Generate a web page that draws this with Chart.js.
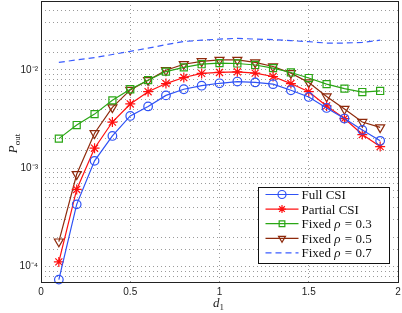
<!DOCTYPE html>
<html>
<head>
<meta charset="utf-8">
<script src="https://cdn.jsdelivr.net/npm/chart.js@4"></script>
<style>
  html, body { margin: 0; padding: 0; background: #fff; }
  #c { display: block; }
</style>
</head>
<body>
<canvas id="c" width="402" height="313"></canvas>
<script>
// distance d1 (x axis)
const d1 = [0.1, 0.2, 0.3, 0.4, 0.5, 0.6, 0.7, 0.8, 0.9, 1.0, 1.1, 1.2, 1.3, 1.4, 1.5, 1.6, 1.7, 1.8, 1.9];

// outage probability
const fullCsi = [7.4e-5, 4.3e-4, 1.19e-3, 2.13e-3, 3.4e-3, 4.25e-3, 5.5e-3, 6.35e-3, 6.9e-3, 7.3e-3,
                 7.6e-3, 7.45e-3, 7.15e-3, 6.2e-3, 5.3e-3, 4.1e-3, 3.2e-3, 2.45e-3, 1.9e-3];
const partialCsi = [1.12e-4, 6.1e-4, 1.6e-3, 2.95e-3, 4.5e-3, 6.0e-3, 7.25e-3, 8.35e-3, 9.2e-3, 9.4e-3,
                    9.55e-3, 9.25e-3, 8.55e-3, 7.25e-3, 6.0e-3, 4.3e-3, 3.2e-3, 2.2e-3, 1.66e-3];
const fixed03 = [2.0e-3, 2.75e-3, 3.55e-3, 4.9e-3, 6.35e-3, 7.85e-3, 9.6e-3, 1.06e-2, 1.14e-2, 1.17e-2,
                 1.16e-2, 1.12e-2, 1.04e-2, 9.4e-3, 8.25e-3, 7.15e-3, 6.45e-3, 5.95e-3, 6.1e-3];
const fixed05 = [1.8e-4, 8.7e-4, 2.27e-3, 4.15e-3, 6.25e-3, 7.85e-3, 9.9e-3, 1.14e-2, 1.22e-2, 1.26e-2,
                 1.26e-2, 1.19e-2, 1.08e-2, 9.25e-3, 7.45e-3, 5.35e-3, 4.0e-3, 2.95e-3, 2.6e-3];
const fixed07 = [1.19e-2, 1.26e-2, 1.33e-2, 1.43e-2, 1.54e-2, 1.66e-2, 1.8e-2, 1.94e-2, 2.0e-2, 2.05e-2,
                 2.09e-2, 2.05e-2, 2.03e-2, 1.98e-2, 1.93e-2, 1.87e-2, 1.87e-2, 1.9e-2, 2.0e-2];

const seriesNames = ['Full CSI', 'Partial CSI', 'Fixed ρ = 0.3', 'Fixed ρ = 0.5', 'Fixed ρ = 0.7'];
const xTicks = [0, 0.5, 1, 1.5, 2];
const yTickLabels = { '-4': '10⁻⁴', '-3': '10⁻³', '-2': '10⁻²' };

const pts = (ys) => ys.map((y, i) => ({ x: d1[i], y: y }));

const SERIF = '"Liberation Serif", "DejaVu Serif", serif';
const SANS = '"Liberation Sans", Arial, sans-serif';

// axis titles with subscripts + MATLAB style legend box + frame
const matlabBits = {
    id: 'matlabBits',
    afterDraw(chart) {
        const ctx = chart.ctx;
        const a = chart.chartArea;
        ctx.save();

        // frame
        ctx.strokeStyle = '#222';
        ctx.lineWidth = 1;
        ctx.strokeRect(Math.round(a.left) + 0.5, Math.round(a.top) + 0.5,
            Math.round(a.right - a.left), Math.round(a.bottom - a.top));

        // x title: d_1
        ctx.fillStyle = '#222';
        ctx.textBaseline = 'alphabetic';
        ctx.font = 'italic 13px ' + SERIF;
        const cx = (a.left + a.right) / 2;
        const dw = ctx.measureText('d').width;
        ctx.fillText('d', cx - dw, 307);
        ctx.font = '9px ' + SERIF;
        ctx.fillText('1', cx, 310);

        // y title: P_out
        ctx.save();
        ctx.translate(17, (a.top + a.bottom) / 2 + 2);
        ctx.rotate(-Math.PI / 2);
        ctx.font = 'italic 13px ' + SERIF;
        const pw = ctx.measureText('P').width;
        ctx.font = '9px ' + SERIF;
        const ow = ctx.measureText('out').width;
        const x0 = -(pw + ow) / 2;
        ctx.font = 'italic 13px ' + SERIF;
        ctx.fillText('P', x0, 0);
        ctx.font = '9px ' + SERIF;
        ctx.fillText('out', x0 + pw, 3);
        ctx.restore();

        // legend
        const bw = 131, bh = 76;
        const bx = Math.round(a.right - 9 - bw) + 0.5;
        const by = Math.round(a.bottom - 19 - bh) + 0.5;
        ctx.fillStyle = '#fff';
        ctx.fillRect(bx, by, bw, bh);
        ctx.strokeStyle = '#111';
        ctx.lineWidth = 1;
        ctx.strokeRect(bx, by, bw, bh);

        chart.data.datasets.forEach((ds, i) => {
            const y = by + 7 + i * 14.6;
            const lx0 = bx + 7, lx1 = bx + 40;
            ctx.save();
            ctx.strokeStyle = ds.borderColor;
            ctx.lineWidth = ds.borderWidth;
            ctx.setLineDash(ds.borderDash || []);
            ctx.beginPath();
            ctx.moveTo(lx0, y);
            ctx.lineTo(lx1, y);
            ctx.stroke();
            ctx.restore();
            if (ds.pointRadius > 0) {
                ctx.save();
                ctx.strokeStyle = ds.borderColor;
                ctx.fillStyle = 'rgba(0,0,0,0)';
                ctx.lineWidth = ds.pointBorderWidth;
                Chart.helpers.drawPoint(ctx, {
                    pointStyle: ds.pointStyle,
                    rotation: ds.pointRotation || 0,
                    radius: Math.min(ds.pointRadius, 4),
                    borderWidth: ds.pointBorderWidth,
                }, (lx0 + lx1) / 2, y);
                ctx.restore();
            }
            // label text, greek rho in italics
            ctx.fillStyle = '#111';
            ctx.textBaseline = 'middle';
            let tx = bx + 43;
            const parts = ds.label.split('ρ');
            parts.forEach((p, k) => {
                ctx.font = '13px ' + SERIF;
                ctx.fillText(p, tx, y + 1);
                tx += ctx.measureText(p).width;
                if (k < parts.length - 1) {
                    ctx.font = 'italic 13px ' + SERIF;
                    ctx.fillText('ρ', tx, y + 1);
                    tx += ctx.measureText('ρ').width + 1;
                }
            });
        });
        ctx.restore();
    },
};

function series(label, data, color, style, radius, extra) {
    return Object.assign({
        label: label,
        data: pts(data),
        borderColor: color,
        backgroundColor: 'rgba(0,0,0,0)',
        borderWidth: 1.2,
        pointStyle: style,
        pointRadius: radius,
        pointBorderWidth: 1.2,
        pointBackgroundColor: 'rgba(0,0,0,0)',
        pointBorderColor: color,
        tension: 0,
        fill: false,
        clip: 8,
    }, extra || {});
}

new Chart(document.getElementById('c'), {
    type: 'line',
    data: {
        datasets: [
            series(seriesNames[0], fullCsi, '#2f52f5', 'circle', 4.3),
            series(seriesNames[1], partialCsi, '#ff1010', 'star', 5),
            series(seriesNames[2], fixed03, '#2aa614', 'rect', 5),
            series(seriesNames[3], fixed05, '#8e2a0c', 'triangle', 5.2, { pointRotation: 180 }),
            series(seriesNames[4], fixed07, '#3a5cff', 'circle', 0, { borderDash: [6, 4] }),
        ],
    },
    options: {
        responsive: false,
        animation: false,
        devicePixelRatio: 1,
        layout: { autoPadding: false, padding: { top: 1, right: 4, left: 0, bottom: 0 } },
        plugins: {
            legend: { display: false },
            tooltip: { enabled: false },
        },
        scales: {
            x: {
                type: 'linear',
                min: 0,
                max: 2,
                afterBuildTicks: (scale) => {
                    scale.ticks = xTicks.map((v) => ({ value: v }));
                },
                afterFit: (scale) => {
                    scale.height = 31;
                    scale.paddingLeft = 0;
                    scale.paddingRight = 0;
                },
                ticks: {
                    padding: 4,
                    color: '#222',
                    font: { family: SANS, size: 10 },
                    maxRotation: 0,
                    callback: (v) => String(v),
                },
                grid: { color: '#9a9a9a', drawTicks: false, lineWidth: 1 },
                border: { display: false, dash: [1, 3] },
            },
            y: {
                type: 'logarithmic',
                min: 7e-5,
                max: 5e-2,
                afterFit: (scale) => {
                    scale.width = 41;
                    scale.paddingTop = 0;
                    scale.paddingBottom = 0;
                },
                ticks: {
                    autoSkip: false,
                    padding: 3,
                    color: '#222',
                    font: { family: SANS, size: 10 },
                    callback: (v) => {
                        const e = Math.log10(v);
                        const r = Math.round(e);
                        return Math.abs(e - r) < 1e-6 && yTickLabels[String(r)] ? yTickLabels[String(r)] : '';
                    },
                },
                grid: { color: '#9a9a9a', drawTicks: false, lineWidth: 1 },
                border: { display: false, dash: [1, 3] },
            },
        },
    },
    plugins: [matlabBits],
});
</script>
</body>
</html>
